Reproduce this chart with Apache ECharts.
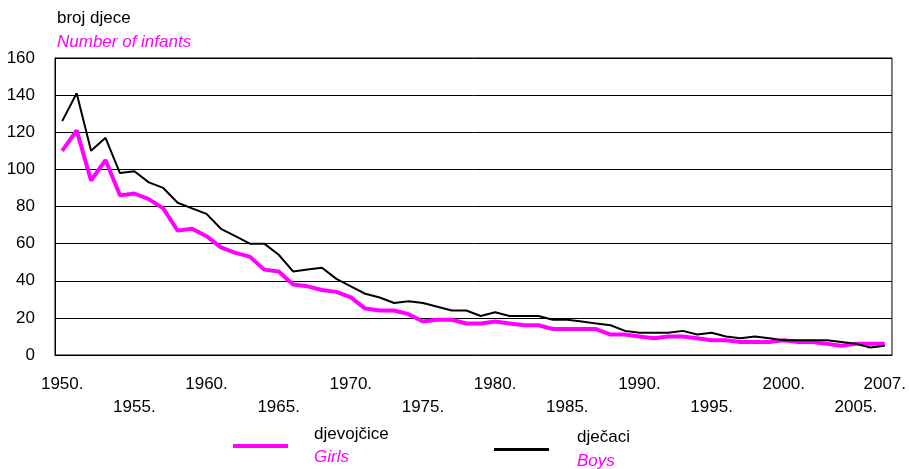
<!DOCTYPE html>
<html>
<head>
<meta charset="utf-8">
<script src="https://cdn.jsdelivr.net/npm/echarts@6/dist/echarts.min.js"></script>
<style>
  html, body { margin: 0; padding: 0; background: #fff; }
  #chart { width: 909px; height: 469px; }
</style>
</head>
<body>
<div id="chart"></div>
<script>
// godine
const years = [];
for (let y = 1950; y <= 2007; y++) years.push(String(y));

// djevojčice / Girls
const girls = [
  110, 121, 94, 105, 86, 87, 84, 79, 67, 68,
  64, 58, 55, 53, 46, 45, 38, 37, 35, 34,
  31, 25, 24, 24, 22, 18, 19, 19, 17, 17,
  18, 17, 16, 16, 14, 14, 14, 14, 11, 11,
  10, 9, 10, 10, 9, 8, 8, 7, 7, 7,
  8, 7, 7, 6, 5, 6, 6, 6
];

// dječaci / Boys
const boys = [
  126, 141, 110, 117, 98, 99, 93, 90, 82, 79,
  76, 68, 64, 60, 60, 54, 45, 46, 47, 41,
  37, 33, 31, 28, 29, 28, 26, 24, 24, 21,
  23, 21, 21, 21, 19, 19, 18, 17, 16, 13,
  12, 12, 12, 13, 11, 12, 10, 9, 10, 9,
  8, 8, 8, 8, 7, 6, 4, 5
];

const yTicks = [0, 20, 40, 60, 80, 100, 120, 140, 160];

const FONT = "'Liberation Sans', Arial, sans-serif";
const MAGENTA = "#ff00ff";

const isTickYear = v => Number(v) % 5 === 0 || v === "2007";
const isTopRow = v => Number(v) % 10 === 0 || v === "2007";
const isBottomRow = v => Number(v) % 10 === 5;

const labelBase = {
  hideOverlap: false,
  fontFamily: FONT,
  fontSize: 17,
  color: "#000",
  formatter: v => v + "."
};

const chart = echarts.init(document.getElementById("chart"));

chart.setOption({
  animation: false,
  textStyle: { fontFamily: FONT },
  title: {
    left: 57,
    top: 6,
    padding: 0,
    text: "{a|broj djece}\n{b|Number of infants}",
    textStyle: {
      fontWeight: "normal",
      rich: {
        a: { fontFamily: FONT, fontSize: 17, fontWeight: "normal", color: "#000", lineHeight: 24 },
        b: { fontFamily: FONT, fontSize: 17, fontWeight: "normal", color: MAGENTA, fontStyle: "italic", lineHeight: 24 }
      }
    }
  },
  legend: [
    {
      data: ["djevojčice"],
      left: 233,
      top: 426,
      padding: 0,
      icon: "rect",
      itemWidth: 55,
      itemHeight: 4,
      formatter: name => "{a|" + name + "}\n{b|Girls}",
      textStyle: {
        rich: {
          a: { fontFamily: FONT, fontSize: 17, color: "#000", lineHeight: 23, padding: [0, 0, 0, 21] },
          b: { fontFamily: FONT, fontSize: 17, color: MAGENTA, fontStyle: "italic", lineHeight: 23, padding: [0, 0, 0, 21] }
        }
      }
    },
    {
      data: ["dječaci"],
      left: 494,
      top: 429,
      padding: 0,
      icon: "rect",
      itemWidth: 55,
      itemHeight: 3,
      formatter: name => "{a|" + name + "}\n{b|Boys}",
      textStyle: {
        rich: {
          a: { fontFamily: FONT, fontSize: 17, color: "#000", lineHeight: 24, padding: [0, 0, 0, 23] },
          b: { fontFamily: FONT, fontSize: 17, color: MAGENTA, fontStyle: "italic", lineHeight: 24, padding: [0, 0, 0, 23] }
        }
      }
    }
  ],
  grid: {
    left: 55,
    right: 14,
    top: 58,
    bottom: 114,
    show: true,
    borderColor: "#000",
    borderWidth: 1,
    containLabel: false
  },
  xAxis: [
    {
      // gornji red oznaka + crtice
      type: "category",
      data: years,
      boundaryGap: true,
      axisLine: { lineStyle: { color: "#000", width: 1 } },
      axisTick: {
        alignWithLabel: true,
        length: 8,
        interval: (i, v) => isTickYear(v),
        lineStyle: { color: "#000" }
      },
      axisLabel: Object.assign({}, labelBase, {
        interval: (i, v) => isTopRow(v),
        margin: 21
      }),
      splitLine: { show: false }
    },
    {
      // donji red oznaka (1955., 1965., ...)
      type: "category",
      data: years,
      position: "bottom",
      boundaryGap: true,
      axisLine: { show: false },
      axisTick: { show: false },
      axisLabel: Object.assign({}, labelBase, {
        interval: (i, v) => isBottomRow(v),
        margin: 44
      }),
      splitLine: { show: false }
    }
  ],
  yAxis: {
    type: "value",
    min: yTicks[0],
    max: yTicks[yTicks.length - 1],
    interval: 20,
    axisLine: { show: true, lineStyle: { color: "#000", width: 1 } },
    axisTick: { show: false },
    axisLabel: { margin: 20, fontFamily: FONT, fontSize: 17, color: "#000" },
    splitLine: { lineStyle: { color: "#000", width: 1 } }
  },
  series: [
    {
      name: "djevojčice",
      type: "line",
      xAxisIndex: 0,
      data: girls,
      symbol: "none",
      color: MAGENTA,
      lineStyle: { color: MAGENTA, width: 4 }
    },
    {
      name: "dječaci",
      type: "line",
      xAxisIndex: 0,
      data: boys,
      symbol: "none",
      color: "#000",
      lineStyle: { color: "#000", width: 2 }
    }
  ]
});
</script>
</body>
</html>
